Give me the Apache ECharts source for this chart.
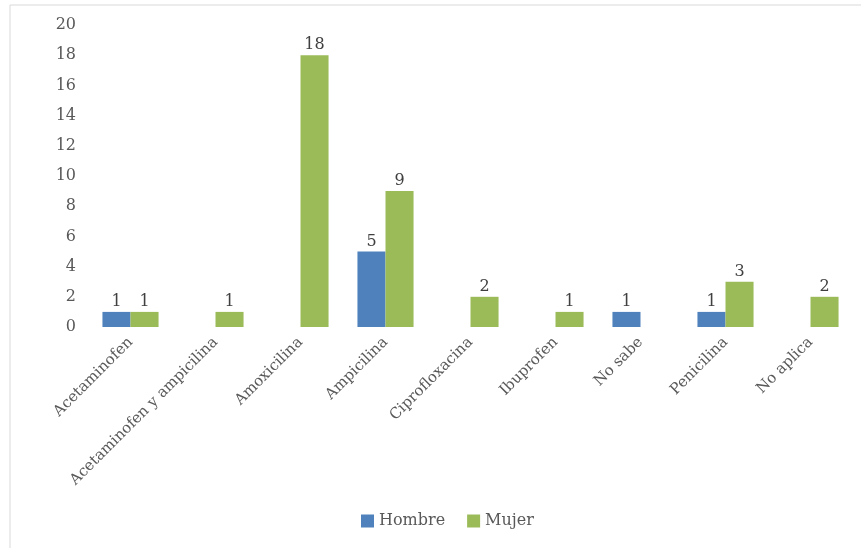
<!DOCTYPE html>
<html>
<head>
<meta charset="utf-8">
<script src="https://cdn.jsdelivr.net/npm/echarts@6/dist/echarts.min.js"></script>
<style>html,body{margin:0;padding:0;background:#fff}#c{width:861px;height:548px}</style>
</head>
<body>
<div id="c"></div>
<script>
const categories = ["Acetaminofen","Acetaminofen y ampicilina","Amoxicilina","Ampicilina","Ciprofloxacina","Ibuprofen","No sabe","Penicilina","No aplica"];
const hombre = [1, null, null, 5, null, null, 1, 1, null];
const mujer = [1, 1, 18, 9, 2, 1, null, 3, 2];
const yTicks = {min: 0, max: 20, interval: 2};

const font = "'DejaVu Serif', 'Liberation Serif', serif";
const chart = echarts.init(document.getElementById('c'));
chart.setOption({
  animation: false,
  backgroundColor: '#fff',
  graphic: [{type:'rect', shape:{x:10,y:5,width:860,height:560}, style:{fill:'none', stroke:'#d9d9d9', lineWidth:1}, silent:true}],
  grid: {left: 88, right: 8, top: 25, bottom: 221, containLabel: false},
  legend: {
    bottom: 14, left: 356, itemWidth: 13, itemHeight: 13, itemGap: 22,
    icon: 'rect',
    textStyle: {fontFamily: font, fontSize: 16, color: '#595959'},
    data: ['Hombre','Mujer']
  },
  xAxis: {
    type: 'category', data: categories,
    axisLine: {show: false}, axisTick: {show: false},
    axisLabel: {rotate: 45, interval: 0, fontFamily: font, fontSize: 15, color: '#595959', margin: 13}
  },
  yAxis: {
    type: 'value', min: yTicks.min, max: yTicks.max, interval: yTicks.interval,
    splitLine: {show: false}, axisLine: {show: false}, axisTick: {show: false},
    axisLabel: {fontFamily: font, fontSize: 16, color: '#595959', margin: 12}
  },
  series: [
    {name: 'Hombre', type: 'bar', data: hombre, barGap: '0%', barCategoryGap: '34%',
     itemStyle: {color: '#4f81bd'},
     label: {show: true, position: 'top', fontFamily: font, fontSize: 16, color: '#404040', distance: 2}},
    {name: 'Mujer', type: 'bar', data: mujer, barGap: '0%', barCategoryGap: '34%',
     itemStyle: {color: '#9bbb59'},
     label: {show: true, position: 'top', fontFamily: font, fontSize: 16, color: '#404040', distance: 2}}
  ]
});
</script>
</body>
</html>
